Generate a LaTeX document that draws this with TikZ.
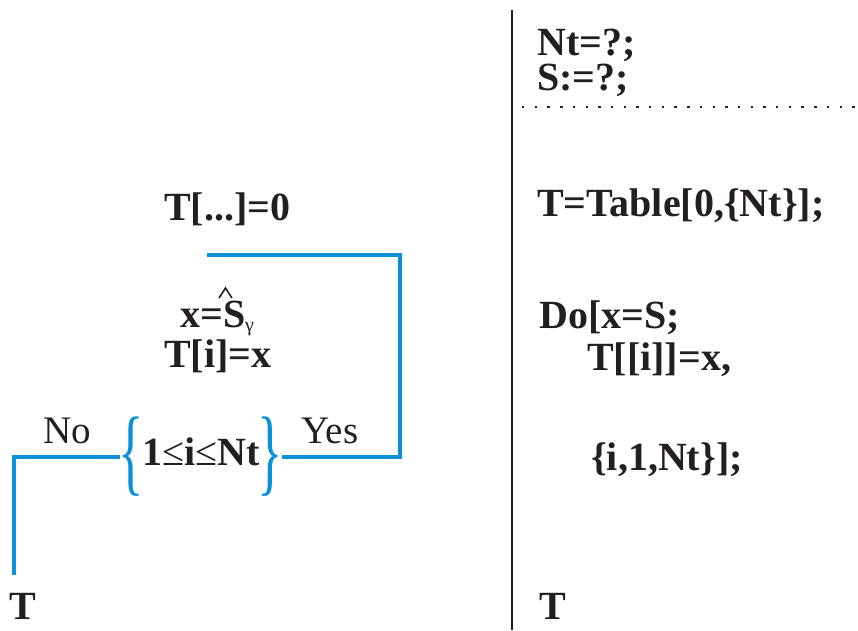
\documentclass[tikz,border=0pt]{standalone}
\usepackage{fontspec}
\setmainfont{Liberation Serif}
\definecolor{flowblue}{RGB}{10,145,215}
\definecolor{ink}{RGB}{35,31,32}
\begin{document}
\begin{tikzpicture}[x=1pt,y=-1pt,
  code/.style={font=\fontsize{40}{35}\selectfont\bfseries, text=ink, inner sep=0pt},
  lbl/.style={font=\fontsize{39}{42}\selectfont, text=ink, inner sep=0pt},
  flow/.style={draw=flowblue, line width=4pt},
  bracetxt/.style={font=\fontsize{96}{98}\selectfont, text=flowblue, inner sep=0pt}]
\useasboundingbox (0,0) rectangle (858,630);
% divider
\draw[ink, line width=2.6pt] (512,10) -- (512,630);
\draw[ink, line width=2.4pt, dash pattern=on 2.4pt off 10.3pt] (522,107) -- (858,107);
% right column
\node[code, anchor=base west, align=left] (nt) at (537,90) {Nt=?;\\S:=?;};
\node[code, anchor=base west] (tab) at (537,216) {T=Table[0,\{Nt\}];};
\node[code, anchor=base west] (do) at (539,328) {Do[x=S;};
\node[code, anchor=base west] (ti) at (587,370) {T[[i]]=x,};
\node[code, anchor=base west] (it) at (591,470) {\{i,1,Nt\}];};
\node[code, anchor=base west] (tr) at (539,619) {T};
% left column
\node[code, anchor=base west] (t0) at (164,220) {T[...]=0};
\node[code, anchor=base west] (xs) at (180,327) {x=S\raisebox{-0.12em}{\fontsize{20}{20}\selectfont\mdseries γ}};
\draw[ink, line width=1.6pt, line join=miter] (219,298) -- (225.5,288) -- (232,298);
\node[code, anchor=base west] (tx) at (164,367) {T[i]=x};
\node[code, anchor=base] (cond) at (201,465) {1{\mdseries ≤}i{\mdseries ≤}Nt};
\node[bracetxt, anchor=center] (lb) at (131,457) {\scalebox{0.55}[1]{\{}};
\node[bracetxt, anchor=center] (rb) at (270,457) {\scalebox{0.55}[1]{\}}};
\node[lbl, anchor=base] (no) at (67,443) {No};
\node[lbl, anchor=base] (yes) at (330,443) {Yes};
\node[code, anchor=base west] (tl) at (9,619) {T};
\coordinate (ytop) at (207,255);
\coordinate (ycorner) at (400,255);
\coordinate (nbot) at (14,575);
\coordinate (rbe) at (282,457);
\coordinate (lbe) at (120,457);
\draw[flow] (rbe) -| (ycorner) -- (ytop);
\draw[flow] (lbe) -| (nbot);
\end{tikzpicture}
\end{document}
